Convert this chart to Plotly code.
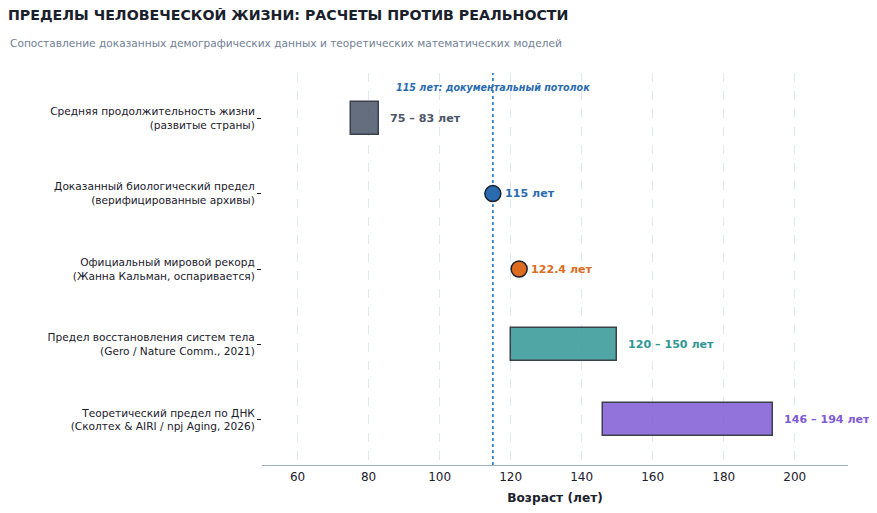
import plotly.graph_objects as go

categories = [
    "Средняя продолжительность жизни<br>(развитые страны)",
    "Доказанный биологический предел<br>(верифицированные архивы)",
    "Официальный мировой рекорд<br>(Жанна Кальман, оспаривается)",
    "Предел восстановления систем тела<br>(Gero / Nature Comm., 2021)",
    "Теоретический предел по ДНК<br>(Сколтех & AIRI / npj Aging, 2026)",
]
range_start = [75, None, None, 120, 146]
range_end = [83, None, None, 150, 194]
point_value = [None, 115, 122.4, None, None]
value_labels = ["75 – 83 лет", "115 лет", "122.4 лет", "120 – 150 лет", "146 – 194 лет"]
colors = ["#4a5568", "#2b6cb0", "#dd6b20", "#319795", "#805ad5"]
ceiling = 115

# page body adds 8px around the figure, so the figure is sized to fit inside
W, H = 861, 497
ML, MR, MT, MB = 254, 21, 65, 40
plot_w = W - ML - MR
plot_h = H - MT - MB

fig = go.Figure()

# range bars
for i, cat in enumerate(categories):
    if range_start[i] is not None:
        fig.add_trace(go.Bar(
            y=[cat], x=[range_end[i] - range_start[i]], base=[range_start[i]],
            orientation="h", width=0.44,
            marker=dict(color=colors[i], opacity=0.85, line=dict(color="#1a202c", width=1.5)),
            showlegend=False,
        ))

# single-value points
for i, cat in enumerate(categories):
    if point_value[i] is not None:
        fig.add_trace(go.Scatter(
            y=[cat], x=[point_value[i]], mode="markers",
            marker=dict(color=colors[i], size=16, line=dict(color="#1a202c", width=1.5)),
            showlegend=False,
        ))

# value labels right of each mark
for i, cat in enumerate(categories):
    xpos = range_end[i] if range_end[i] is not None else point_value[i]
    fig.add_annotation(
        x=xpos, y=cat, text="<b>" + value_labels[i] + "</b>", showarrow=False,
        xanchor="left", xshift=9 if range_end[i] is not None else 10,
        font=dict(size=11.1, color=colors[i]),
    )

# documented ceiling line
fig.add_vline(x=ceiling, line_dash="dot", line_color="#3182ce", line_width=1.8, layer="below")
fig.add_annotation(
    x=ceiling, y=1 - 14 / plot_h, yref="paper",
    text="<b><i>115 лет: документальный потолок</i></b>",
    showarrow=False, xanchor="center", yanchor="middle",
    font=dict(size=9.6, color="#2b6cb0"),
)

# subtitle
fig.add_annotation(
    xref="paper", yref="paper", x=-ML / plot_w, xanchor="left",
    y=1 + (MT - 35) / plot_h, yanchor="middle",
    text="Сопоставление доказанных демографических данных и теоретических математических моделей",
    showarrow=False, font=dict(size=10.6, color="#718096"),
)

fig.update_layout(
    width=W, height=H,
    font=dict(family="DejaVu Sans", size=11, color="#1a202c"),
    plot_bgcolor="white", paper_bgcolor="white",
    margin=dict(l=ML, r=MR, t=MT, b=MB),
    bargap=0,
    title=dict(
        text="<b>ПРЕДЕЛЫ ЧЕЛОВЕЧЕСКОЙ ЖИЗНИ: РАСЧЕТЫ ПРОТИВ РЕАЛЬНОСТИ</b>",
        x=0, xanchor="left", y=1 - 2.5 / H, yanchor="top", pad=dict(t=0, l=0),
        font=dict(size=14.2, color="#1a202c"),
    ),
    xaxis=dict(
        range=[50, 215], tickvals=[60, 80, 100, 120, 140, 160, 180, 200],
        showgrid=True, gridcolor="#e2e8f0", griddash="dash", gridwidth=1,
        showline=True, linecolor="#a0aec0", linewidth=1.2,
        zeroline=False, ticks="", tickfont=dict(size=12, color="#1a202c"),
        automargin=False,
        title=dict(text="<b>Возраст (лет)</b>", font=dict(size=12.2, color="#1a202c"), standoff=10),
    ),
    yaxis=dict(
        categoryorder="array", categoryarray=categories,
        range=[4.6, -0.6], showgrid=False, zeroline=False, showline=False,
        ticks="outside", ticklen=4, tickcolor="#1a202c", tickwidth=1,
        tickfont=dict(size=10.6, color="#1a202c"), automargin=False,
    ),
)

fig.write_html("out.html")
